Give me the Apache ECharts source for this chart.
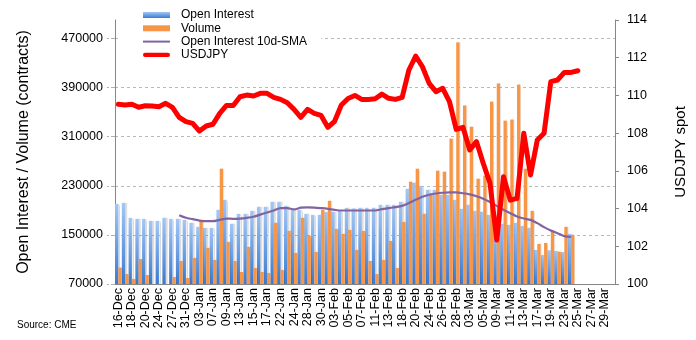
<!DOCTYPE html>
<html>
<head>
<meta charset="utf-8">
<script src="https://cdn.jsdelivr.net/npm/echarts@6/dist/echarts.min.js"></script>
<style>
html,body{margin:0;padding:0;background:#fff;}
#chart{width:696px;height:340px;}
</style>
</head>
<body>
<div id="chart"></div>
<script>
var categories = ['16-Dec','17-Dec','18-Dec','19-Dec','20-Dec','23-Dec','24-Dec','26-Dec','27-Dec','30-Dec','31-Dec',
'02-Jan','03-Jan','06-Jan','07-Jan','08-Jan','09-Jan','10-Jan','13-Jan','14-Jan','15-Jan','16-Jan','17-Jan','21-Jan','22-Jan','23-Jan','24-Jan','27-Jan','28-Jan','29-Jan','30-Jan','31-Jan',
'03-Feb','04-Feb','05-Feb','06-Feb','07-Feb','10-Feb','11-Feb','12-Feb','13-Feb','14-Feb','18-Feb','19-Feb','20-Feb','21-Feb','24-Feb','25-Feb','26-Feb','27-Feb','28-Feb',
'02-Mar','03-Mar','04-Mar','05-Mar','06-Mar','09-Mar','10-Mar','11-Mar','12-Mar','13-Mar','16-Mar','17-Mar','18-Mar','19-Mar','20-Mar','23-Mar','24-Mar','25-Mar','26-Mar','27-Mar','28-Mar','29-Mar','30-Mar'];

var openInterest = [200600,202200,177800,176100,176100,172900,172900,177800,176100,176100,174500,
169600,163100,161400,161400,190800,207100,168000,184300,184300,189200,195700,195700,203900,203900,197300,190800,190800,184300,182700,182700,187600,
187600,189700,194000,193000,194100,194100,194100,199000,199000,199000,203900,225100,234900,230000,223500,223500,215300,215300,207100,
192400,199000,189200,187600,182700,160000,168000,166300,169600,164700,161400,125500,117300,125000,123900,122200,151600];

var volume = [96600,86300,78200,110800,84700,null,null,null,81400,107500,79800,
112400,172900,128800,109200,257800,138600,107500,89600,130400,96100,89600,88000,169600,92900,156500,120600,177800,148400,122200,190800,205500,
159800,151600,158200,125500,156500,107500,86300,109200,140200,96100,171200,236500,257800,184300,216900,254500,252900,306700,463500,
360600,326300,241400,246300,367100,396500,336100,337800,394900,257800,189200,135300,136900,156500,122200,163100,150000];

var oiSma = [null,null,null,null,null,null,null,null,null,182000,177800,
175600,173300,172300,172300,174500,176600,176100,176600,177800,179500,183000,186400,189700,193500,193500,191500,194300,194800,194500,193600,192500,
190800,189700,189700,189700,189700,189700,189700,191900,193600,195200,197300,201800,207100,212000,215300,217400,218600,219100,219100,
217800,216000,213000,209000,203400,197300,190800,185400,179900,176600,174500,169100,162600,157000,152800,148000,146700];

var usdjpy = [109.53,109.49,109.53,109.37,109.45,109.44,109.40,109.58,109.37,108.84,108.61,
108.52,108.11,108.38,108.47,109.05,109.47,109.47,109.93,110.02,109.97,110.11,110.11,109.90,109.79,109.61,109.26,108.84,109.26,109.05,108.94,108.31,
108.63,109.49,109.84,110.00,109.79,109.79,109.82,110.07,109.85,109.79,109.90,111.35,112.09,111.52,110.64,110.20,110.38,109.67,108.20,
108.31,107.11,107.55,106.40,105.34,102.33,105.69,104.45,104.54,107.99,105.78,107.64,107.99,110.73,110.82,111.22,111.22,111.31];

var leftName = 'Open Interest / Volume (contracts)';
var rightName = 'USDJPY spot';
var sourceText = 'Source: CME';

var FONT = "'Liberation Sans', Arial, sans-serif";
var chart = echarts.init(document.getElementById('chart'), null, {renderer: 'canvas'});
chart.setOption({
  animation: false,
  backgroundColor: '#fff',
  textStyle: {fontFamily: FONT},
  title: {
    text: sourceText, left: 12, top: 315,
    textStyle: {fontSize: 10, fontWeight: 'normal', color: '#000', fontFamily: FONT}
  },
  legend: {
    orient: 'vertical', left: 118, top: 7,
    padding: [2, 14, 4, 25],
    backgroundColor: '#fff',
    itemWidth: 27, itemHeight: 6, itemGap: 1.3,
    symbolKeepAspect: true,
    textStyle: {fontSize: 12, lineHeight: 12, color: '#000', fontFamily: FONT, padding: [0, 0, 0, 6]},
    data: [
      {name: 'Open Interest', icon: 'rect'},
      {name: 'Volume', icon: 'rect'},
      {name: 'Open Interest 10d-SMA', icon: 'path://M0,0L54,0L54,4L0,4Z'},
      {name: 'USDJPY', icon: 'path://M2,0L52,0A4.5,4.5,0,0,1,52,9L2,9A4.5,4.5,0,0,1,2,0Z'}
    ]
  },
  grid: {left: 115, right: 75, top: 20, bottom: 56, containLabel: false},
  xAxis: {
    type: 'category', data: categories, boundaryGap: true,
    axisLine: {lineStyle: {color: '#868686', width: 1}},
    axisTick: {interval: 1, length: 4, lineStyle: {color: '#868686'}},
    axisLabel: {interval: 1, rotate: 90, fontSize: 12.5, color: '#000', margin: 4, fontFamily: FONT},
    splitLine: {show: false}
  },
  yAxis: [
    {
      type: 'value', min: 70000, max: 500000, interval: 80000,
      name: leftName, nameLocation: 'middle', nameGap: 83, nameRotate: 90,
      nameTextStyle: {fontSize: 16, color: '#000', fontFamily: FONT},
      axisLine: {show: true, lineStyle: {color: '#868686'}},
      axisTick: {show: true, length: 8, lineStyle: {color: '#b0b0b0', type: 'dashed'}},
      axisLabel: {fontSize: 12.5, color: '#000', margin: 12, showMaxLabel: false, fontFamily: FONT,
        formatter: function (v) { return String(v); }},
      splitLine: {show: true, showMaxLine: false, showMinLine: false, lineStyle: {color: '#b8b8b8', type: [3, 3], width: 1}}
    },
    {
      type: 'value', min: 100, max: 114, interval: 2, position: 'right',
      name: rightName, nameLocation: 'middle', nameGap: 58, nameRotate: 90,
      nameTextStyle: {fontSize: 15, color: '#000', fontFamily: FONT},
      axisLine: {show: true, lineStyle: {color: '#868686'}},
      axisTick: {show: true, length: 4, lineStyle: {color: '#868686'}},
      axisLabel: {fontSize: 12.5, color: '#000', margin: 12, fontFamily: FONT,
        formatter: function (v) { return String(v); }},
      splitLine: {show: false}
    }
  ],
  series: [
    {
      name: 'Open Interest', type: 'bar', yAxisIndex: 0, data: openInterest,
      barGap: '0%', barCategoryGap: '2%',
      itemStyle: {
        color: new echarts.graphic.LinearGradient(0, 0, 0, 1, [
          {offset: 0, color: '#a3c7f6'},
          {offset: 1, color: '#3a7ad0'}
        ]),
        shadowColor: 'rgba(0,0,0,0.14)', shadowOffsetX: 2, shadowBlur: 1
      }
    },
    {
      name: 'Volume', type: 'bar', yAxisIndex: 0, data: volume,
      barGap: '0%', barCategoryGap: '2%',
      itemStyle: {color: '#f79646', shadowColor: 'rgba(0,0,0,0.1)', shadowOffsetX: 1, shadowBlur: 1}
    },
    {
      name: 'Open Interest 10d-SMA', type: 'line', yAxisIndex: 0, data: oiSma,
      symbol: 'none', smooth: 0.3, connectNulls: false,
      lineStyle: {color: '#8064a2', width: 2.2},
      itemStyle: {color: '#8064a2'}
    },
    {
      name: 'USDJPY', type: 'line', yAxisIndex: 1, data: usdjpy,
      symbol: 'none',
      lineStyle: {color: '#ff0000', width: 5, join: 'round', cap: 'round'},
      itemStyle: {color: '#ff0000'}
    }
  ]
});
</script>
</body>
</html>
